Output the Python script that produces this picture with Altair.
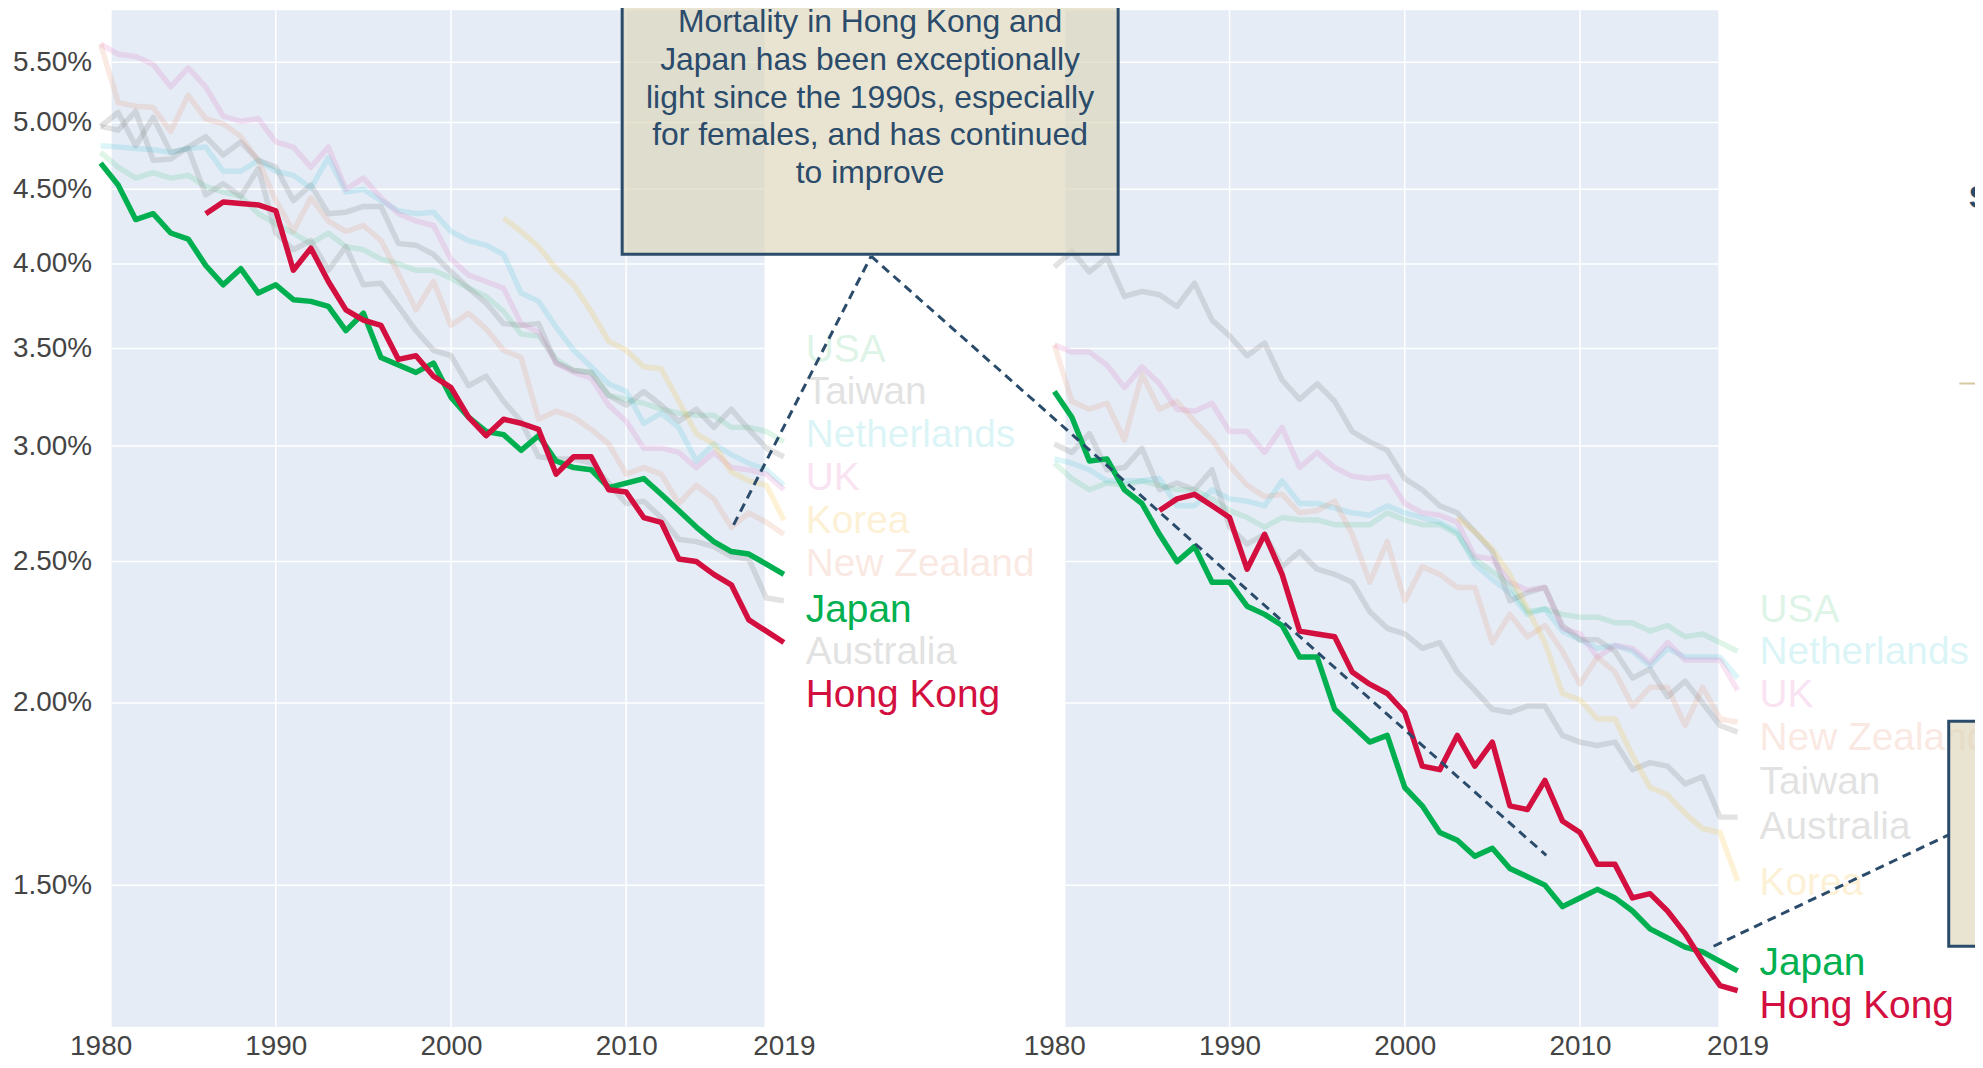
import altair as alt
import pandas as pd

YEARS = list(range(1980, 2020))
OFFSET = 54.44          # right panel is drawn shifted along the shared x scale
FONT = "Liberation Sans"
INK = "#2B4B6B"

COUNTRIES = ["USA", "Taiwan", "Netherlands", "UK", "Korea", "New Zealand",
             "Japan", "Australia", "Hong Kong"]
COLORS = ["#00B050", "#808080", "#17BECF", "#E377C2", "#F5C242", "#E8967A",
          "#00B050", "#808080", "#D20F3F"]
OPACITY = [0.13, 0.22, 0.15, 0.2, 0.22, 0.2, 1.0, 0.22, 1.0]
START = {"Hong Kong": 1986, "Korea": 2003}

# ---- left panel (mortality, %) ----
left_vals = {
    "Japan": [4.69, 4.53, 4.29, 4.33, 4.20, 4.16, 3.99, 3.87, 3.97, 3.82,
              3.87, 3.78, 3.77, 3.74, 3.60, 3.70, 3.45, 3.41, 3.37, 3.42,
              3.24, 3.14, 3.07, 3.055, 2.98, 3.05, 2.93, 2.90, 2.89, 2.81,
              2.83, 2.85, 2.78, 2.71, 2.64, 2.58, 2.54, 2.53, 2.49, 2.45],
    "Hong Kong": [4.33, 4.41, 4.40, 4.39,
                  4.35, 3.96, 4.10, 3.89, 3.72, 3.66, 3.63, 3.44, 3.46, 3.35,
                  3.29, 3.14, 3.05, 3.13, 3.11, 3.08, 2.87, 2.95, 2.95, 2.80,
                  2.79, 2.68, 2.66, 2.51, 2.50, 2.45, 2.41, 2.28, 2.24, 2.20],
    "USA": [4.77, 4.66, 4.58, 4.62, 4.58, 4.60, 4.52, 4.48, 4.45, 4.33,
            4.26, 4.20, 4.13, 4.20, 4.11, 4.09, 4.03, 4.00, 3.96, 3.96,
            3.91, 3.85, 3.80, 3.71, 3.58, 3.57, 3.44, 3.38, 3.37, 3.25,
            3.23, 3.21, 3.18, 3.16, 3.15, 3.15, 3.09, 3.09, 3.07, 3.02],
    "Taiwan": [4.97, 4.94, 5.09, 4.71, 4.72, 4.81, 4.89, 4.75, 4.85, 4.71,
               4.66, 4.42, 4.53, 4.33, 4.34, 4.38, 4.38, 4.13, 4.12, 4.06,
               3.95, 3.85, 3.76, 3.64, 3.63, 3.64, 3.42, 3.38, 3.37, 3.25,
               3.20, 3.27, 3.20, 3.12, 3.18, 3.09, 3.18, 3.08, 2.99, 2.95],
    "Australia": [4.97, 5.08, 4.82, 5.04, 4.77, 4.80, 4.46, 4.54, 4.45, 4.65,
                  4.20, 4.09, 4.15, 3.96, 4.11, 3.87, 3.88, 3.74, 3.60, 3.49,
                  3.46, 3.30, 3.35, 3.22, 3.12, 2.95, 2.94, 2.94, 2.92, 2.83,
                  2.74, 2.75, 2.68, 2.59, 2.58, 2.56, 2.52, 2.51, 2.36, 2.35],
    "Netherlands": [4.82, 4.81, 4.80, 4.79, 4.77, 4.80, 4.81, 4.63, 4.63, 4.71,
                    4.63, 4.60, 4.51, 4.73, 4.48, 4.50, 4.42, 4.35, 4.33, 4.34,
                    4.21, 4.15, 4.12, 4.06, 3.82, 3.77, 3.62, 3.49, 3.40, 3.31,
                    3.27, 3.11, 3.16, 3.09, 2.93, 3.01, 2.96, 2.92, 2.89, 2.82],
    "UK": [5.66, 5.57, 5.55, 5.48, 5.29, 5.45, 5.29, 5.05, 5.01, 5.03,
           4.85, 4.81, 4.66, 4.81, 4.50, 4.58, 4.44, 4.33, 4.28, 4.25,
           4.03, 3.93, 3.89, 3.85, 3.64, 3.59, 3.42, 3.37, 3.34, 3.20,
           3.12, 2.99, 2.99, 2.97, 2.90, 2.97, 2.90, 2.89, 2.87, 2.80],
    "New Zealand": [5.66, 5.16, 5.13, 5.12, 4.93, 5.22, 5.03, 4.99, 4.89, 4.71,
                    4.42, 4.21, 4.44, 4.28, 4.21, 4.25, 4.15, 3.94, 3.72, 3.89,
                    3.63, 3.70, 3.61, 3.49, 3.45, 3.13, 3.17, 3.14, 3.08, 3.01,
                    2.87, 2.90, 2.87, 2.74, 2.82, 2.76, 2.64, 2.70, 2.66, 2.61],
    "Korea": [4.30, 4.21, 4.11, 3.97, 3.87, 3.71, 3.54,
              3.49, 3.40, 3.39, 3.22, 3.06, 3.01, 2.88, 2.84, 2.82, 2.67],
}

# ---- right panel (mortality, %) ----
right_vals = {
    "Japan": [3.27, 3.14, 2.93, 2.94, 2.80, 2.74, 2.61, 2.50, 2.56, 2.42,
              2.42, 2.33, 2.30, 2.26, 2.15, 2.15, 1.98, 1.93, 1.88, 1.90,
              1.75, 1.70, 1.63, 1.61, 1.57, 1.59, 1.54, 1.52, 1.50, 1.45,
              1.47, 1.49, 1.47, 1.44, 1.40, 1.38, 1.36, 1.35, 1.33, 1.31],
    "Hong Kong": [2.71, 2.76, 2.78, 2.73,
                  2.68, 2.47, 2.61, 2.45, 2.24, 2.23, 2.22, 2.10, 2.06, 2.03,
                  1.97, 1.81, 1.80, 1.90, 1.81, 1.88, 1.70, 1.69, 1.77, 1.66,
                  1.63, 1.55, 1.55, 1.47, 1.48, 1.44, 1.39, 1.33, 1.28, 1.27],
    "USA": [2.92, 2.85, 2.80, 2.83, 2.82, 2.84, 2.82, 2.80, 2.80, 2.76,
            2.71, 2.68, 2.64, 2.68, 2.67, 2.67, 2.65, 2.65, 2.65, 2.70,
            2.67, 2.65, 2.65, 2.61, 2.51, 2.46, 2.41, 2.31, 2.32, 2.30,
            2.29, 2.29, 2.27, 2.27, 2.24, 2.26, 2.22, 2.23, 2.20, 2.17],
    "Netherlands": [2.94, 2.92, 2.89, 2.84, 2.84, 2.84, 2.85, 2.73, 2.73, 2.80,
                    2.76, 2.75, 2.73, 2.84, 2.74, 2.74, 2.72, 2.70, 2.69, 2.73,
                    2.70, 2.68, 2.66, 2.62, 2.49, 2.43, 2.38, 2.30, 2.32, 2.24,
                    2.21, 2.18, 2.19, 2.17, 2.12, 2.18, 2.15, 2.15, 2.15, 2.08],
    "UK": [3.52, 3.48, 3.48, 3.41, 3.29, 3.40, 3.31, 3.18, 3.17, 3.21,
           3.07, 3.07, 2.97, 3.09, 2.90, 2.97, 2.90, 2.86, 2.85, 2.86,
           2.74, 2.70, 2.69, 2.66, 2.52, 2.51, 2.42, 2.39, 2.40, 2.25,
           2.23, 2.15, 2.19, 2.18, 2.13, 2.20, 2.14, 2.14, 2.14, 2.04],
    "New Zealand": [3.52, 3.22, 3.18, 3.21, 3.03, 3.36, 3.18, 3.22, 3.12, 3.03,
                    2.91, 2.82, 2.77, 2.78, 2.70, 2.71, 2.75, 2.61, 2.42, 2.58,
                    2.35, 2.48, 2.45, 2.40, 2.40, 2.20, 2.30, 2.22, 2.26, 2.17,
                    2.06, 2.15, 2.10, 1.99, 2.05, 2.05, 1.93, 2.05, 1.95, 1.94],
    "Taiwan": [3.98, 4.08, 3.95, 4.04, 3.80, 3.83, 3.81, 3.74, 3.88, 3.66,
               3.57, 3.46, 3.53, 3.33, 3.23, 3.31, 3.22, 3.07, 3.02, 2.98,
               2.85, 2.80, 2.73, 2.70, 2.62, 2.54, 2.35, 2.38, 2.40, 2.26,
               2.21, 2.21, 2.17, 2.08, 2.11, 2.02, 2.07, 2.00, 1.93, 1.91],
    "Australia": [3.01, 2.97, 3.06, 2.89, 2.90, 2.99, 2.80, 2.83, 2.80, 2.89,
                  2.64, 2.57, 2.61, 2.48, 2.54, 2.47, 2.45, 2.42, 2.31, 2.25,
                  2.23, 2.18, 2.20, 2.10, 2.04, 1.98, 1.97, 1.99, 1.99, 1.90,
                  1.88, 1.87, 1.88, 1.80, 1.82, 1.81, 1.76, 1.78, 1.67, 1.67],
    "Korea": [2.68, 2.62, 2.55, 2.45, 2.32, 2.20, 2.03,
              2.01, 1.95, 1.95, 1.84, 1.75, 1.73, 1.68, 1.64, 1.63, 1.51],
}

# end-of-line label positions (value axis)
left_label_v = {"USA": 3.493, "Taiwan": 3.265, "Netherlands": 3.051, "UK": 2.852,
                "Korea": 2.665, "New Zealand": 2.491, "Japan": 2.317,
                "Australia": 2.166, "Hong Kong": 2.024}
right_label_v = {"USA": 2.314, "Netherlands": 2.166, "UK": 2.024,
                 "New Zealand": 1.892, "Taiwan": 1.766, "Australia": 1.645,
                 "Korea": 1.504, "Japan": 1.326, "Hong Kong": 1.239}

Y_TICKS = [1.5, 2.0, 2.5, 3.0, 3.5, 4.0, 4.5, 5.0, 5.5]
X_TICKS = [1980, 1990, 2000, 2010, 2019]
X_GRID = [1990, 2000, 2010]
BG_SPAN = (1980.63, 2017.9)

ANNOT_LINES = ["Mortality in Hong Kong and", "Japan has been exceptionally",
               "light since the 1990s, especially", "for females, and has continued",
               "to improve"]
ANNOT_V = [5.860, 5.520, 5.200, 4.899, 4.614]

W, H = 1882, 1021
X_DOMAIN = [1980, 2086.99]
Y_DOMAIN = [1.199, 5.971]

color_of = dict(zip(COUNTRIES, COLORS))
op_of = dict(zip(COUNTRIES, OPACITY))

rows = []
for panel, vals, off in (("L", left_vals, 0.0), ("R", right_vals, OFFSET)):
    for c, arr in vals.items():
        y0 = START.get(c, 1980)
        for i, v in enumerate(arr):
            yr = y0 + i
            rows.append(dict(panel=panel, country=c, key=c + panel, year=yr,
                             xv=yr + off, v=v, col=color_of[c], op=op_of[c],
                             bold=c in ("Japan", "Hong Kong")))
lines = pd.DataFrame(rows)

lab_rows = []
for panel, d, off in (("L", left_label_v, 0.0), ("R", right_label_v, OFFSET)):
    for c, v in d.items():
        lab_rows.append(dict(country=c, xv=2019 + off, v=v, col=color_of[c], op=op_of[c]))
labels = pd.DataFrame(lab_rows)

bg = pd.DataFrame([dict(x=BG_SPAN[0] + o, x2=BG_SPAN[1] + o) for o in (0.0, OFFSET)])
vgrid = pd.DataFrame([dict(xv=g + o) for o in (0.0, OFFSET) for g in X_GRID])
hgrid = pd.DataFrame([dict(x=BG_SPAN[0] + o, x2=BG_SPAN[1] + o, v=t)
                      for o in (0.0, OFFSET) for t in Y_TICKS])

xs = alt.Scale(domain=X_DOMAIN, nice=False, zero=False)
ys = alt.Scale(type="log", domain=Y_DOMAIN, nice=False)

x_axis = alt.Axis(values=X_TICKS + [t + OFFSET for t in X_TICKS],
                  labelExpr="toString(round(datum.value > 2030 ? datum.value - 54.44 : datum.value))",
                  grid=False, domain=False, ticks=False, labelFontSize=28,
                  labelColor="#444444", labelFont=FONT, labelPadding=6,
                  labelOverlap=False, labelFlush=False, labelBound=False, title=None)
y_axis = alt.Axis(values=Y_TICKS, labelExpr="format(datum.value, '.2f') + '%'",
                  grid=False, domain=False, ticks=False, labelFontSize=28,
                  labelColor="#444444", labelFont=FONT, labelPadding=9,
                  labelOverlap=False, title=None)


def X(field):
    return alt.X(field, scale=xs, axis=x_axis)


def Y(field):
    return alt.Y(field, scale=ys, axis=y_axis)


bg_layer = alt.Chart(bg).mark_rect(color="#E5ECF6").encode(
    x=X("x:Q"), x2="x2:Q", y=alt.value(0), y2=alt.value(H))

vgrid_layer = alt.Chart(vgrid).mark_rule(color="white", strokeWidth=1.5).encode(
    x=X("xv:Q"), y=alt.value(0), y2=alt.value(H))

hgrid_layer = alt.Chart(hgrid).mark_rule(color="white", strokeWidth=1.5).encode(
    x=X("x:Q"), x2="x2:Q", y=Y("v:Q"))


def line_layer(df):
    return alt.Chart(df).mark_line(strokeWidth=5.5, strokeJoin="round").encode(
        x=X("xv:Q"), y=Y("v:Q"),
        color=alt.Color("col:N", scale=None),
        opacity=alt.Opacity("op:Q", scale=None),
        detail="key:N",
        order="year:Q")


faint_layer = line_layer(lines[~lines["bold"]])
bold_layer = line_layer(lines[lines["bold"]])

label_layer = alt.Chart(labels).mark_text(
    align="left", baseline="middle", dx=22, fontSize=39, font=FONT).encode(
    x=X("xv:Q"), y=Y("v:Q"),
    text="country:N",
    color=alt.Color("col:N", scale=None),
    opacity=alt.Opacity("op:Q", scale=None))

# dashed pointer lines
dash = pd.DataFrame([
    dict(seg=1, xv=2023.98, v=4.049), dict(seg=1, xv=2016.13, v=2.649),
    dict(seg=2, xv=2023.98, v=4.049), dict(seg=2, xv=2062.52, v=1.572),
    dict(seg=3, xv=2072.07, v=1.362), dict(seg=3, xv=2085.49, v=1.624),
])
dash_layer = alt.Chart(dash).mark_line(color=INK, strokeWidth=3, strokeDash=[9, 6]).encode(
    x=X("xv:Q"), y=Y("v:Q"), detail="seg:N")

boxes = pd.DataFrame([
    dict(x=2009.77, x2=2038.08, v=7.5, v2=4.062),
    dict(x=2085.49, x2=2095.0, v=1.943, v2=1.362),
])
box_layer = alt.Chart(boxes).mark_rect(
    fill="#DCD3B4", fillOpacity=0.62, stroke=INK, strokeWidth=3).encode(
    x=X("x:Q"), x2="x2:Q", y=Y("v:Q"), y2="v2:Q")

annot = pd.DataFrame(dict(t=ANNOT_LINES, v=ANNOT_V, xv=[2023.92] * len(ANNOT_LINES)))
annot_layer = alt.Chart(annot).mark_text(
    align="center", baseline="middle", fontSize=32, font=FONT, color=INK).encode(
    x=X("xv:Q"), y=Y("v:Q"), text="t:N")

# fragments of the next panel visible at the right edge
frag_txt = pd.DataFrame(dict(t=["S"], xv=[2086.63], v=[4.436]))
frag_txt_layer = alt.Chart(frag_txt).mark_text(
    align="left", baseline="middle", fontSize=32, font=FONT, fontWeight="bold", color=INK).encode(
    x=X("xv:Q"), y=Y("v:Q"), text="t:N")
frag_rule = pd.DataFrame(dict(x=[2086.1], x2=[2095.0], v=[3.311]))
frag_rule_layer = alt.Chart(frag_rule).mark_rule(color="#D8C8A0", strokeWidth=2).encode(
    x=X("x:Q"), x2="x2:Q", y=Y("v:Q"))

chart = alt.layer(
    bg_layer, vgrid_layer, hgrid_layer, faint_layer, bold_layer, label_layer,
    dash_layer, box_layer, annot_layer, frag_txt_layer, frag_rule_layer,
).properties(
    width=W, height=H, background="white",
    autosize=alt.AutoSizeParams(type="none"),
    padding={"left": 93, "top": 0, "right": 0, "bottom": 31},
).configure_view(strokeWidth=0, stroke=None)

chart.save("out.html", embed_options={"renderer": "svg", "actions": False})
